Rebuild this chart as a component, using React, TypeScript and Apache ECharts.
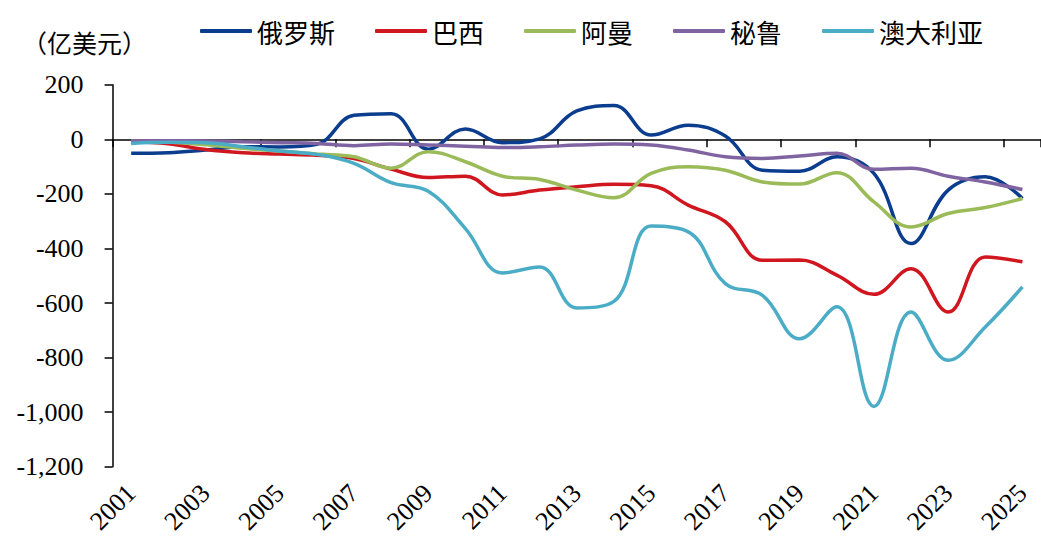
import React, { useEffect, useRef } from "react";
import * as echarts from "echarts";

const years = [
  "2001", "2002", "2003", "2004", "2005", "2006", "2007", "2008", "2009", "2010",
  "2011", "2012", "2013", "2014", "2015", "2016", "2017", "2018", "2019", "2020",
  "2021", "2022", "2023", "2024", "2025",
];

const russia = [-51, -49, -39, -27, -28, -18, 88, 94, -36, 38, -12, 2, 104, 124, 16, 52, 12, -113, -117, -64, -125, -382, -186, -137, -217];
const brazil = [-9, -16, -37, -49, -54, -58, -70, -109, -140, -135, -204, -186, -174, -165, -170, -241, -302, -443, -442, -498, -568, -474, -633, -431, -449];
const oman = [-5, -10, -20, -33, -43, -54, -64, -106, -45, -82, -135, -147, -186, -214, -125, -100, -113, -156, -164, -122, -229, -321, -272, -250, -217];
const peru = [-5, -5, -6, -9, -12, -15, -23, -17, -21, -25, -30, -27, -21, -17, -21, -39, -64, -70, -61, -51, -110, -106, -135, -156, -184];
const australia = [-15, -11, -12, -27, -43, -55, -88, -159, -190, -327, -490, -468, -618, -594, -318, -339, -529, -572, -731, -614, -979, -633, -810, -688, -541];

const seriesNames = ["俄罗斯", "巴西", "阿曼", "秘鲁", "澳大利亚"];
const seriesData = [russia, brazil, oman, peru, australia];
const colors = ["#0B3D8E", "#D0161F", "#9BBB59", "#8064A2", "#4BACC6"];

const yMin = -1200;
const yMax = 200;
const yStep = 200;
const unitLabel = "（亿美元）";

const serif = "'Liberation Serif', 'Times New Roman', Times, serif";
const cjk = "Noto Sans CJK SC";

function fmt(v: number): string {
  const s = Math.abs(v).toString().replace(/\B(?=(\d{3})+(?!\d))/g, ",");
  return v < 0 ? "-" + s : s;
}

export default function App() {
  const ref = useRef<HTMLDivElement>(null);
  useEffect(() => {
    document.body.style.margin = "0";
    const chart = echarts.init(ref.current!, null, { renderer: "svg" });
    chart.setOption({
      animation: false,
      backgroundColor: "#ffffff",
      color: colors,
      grid: { left: 112.6, top: 84.8, width: 934, height: 381.9, containLabel: false },
      legend: {
        left: 195,
        top: 13,
        itemWidth: 52,
        itemHeight: 4,
        itemGap: 40,
        icon: "roundRect",
        textStyle: { fontFamily: cjk, fontSize: 26, color: "#000" },
        data: seriesNames,
      },
      graphic: [
        {
          type: "text",
          left: 22,
          top: 29,
          style: { text: unitLabel, font: `25px '${cjk}'`, fill: "#000" },
        },
      ],
      xAxis: [
        {
          type: "category",
          data: years,
          boundaryGap: true,
          position: "bottom",
          axisLine: { show: false, onZero: false },
          axisTick: { show: false },
          axisLabel: {
            interval: 1,
            rotate: 45,
            margin: 22,
            fontFamily: serif,
            fontSize: 26,
            color: "#000",
          },
        },
        {
          type: "category",
          data: years,
          boundaryGap: true,
          position: "bottom",
          axisLine: { show: true, onZero: true, lineStyle: { color: "#000", width: 1.5 } },
          axisTick: { show: true, interval: 1, length: 8, lineStyle: { color: "#000", width: 1.5 } },
          axisLabel: { show: false },
        },
      ],
      yAxis: {
        type: "value",
        min: yMin,
        max: yMax,
        interval: yStep,
        axisLine: { show: true, lineStyle: { color: "#000", width: 1.5 } },
        axisTick: { show: true, length: 8, lineStyle: { color: "#000", width: 1.5 } },
        splitLine: { show: false },
        axisLabel: {
          margin: 29,
          fontFamily: serif,
          fontSize: 26,
          color: "#000",
          formatter: (v: number) => fmt(v),
        },
      },
      series: seriesNames.map((name, i) => ({
        name,
        type: "line",
        xAxisIndex: 0,
        data: seriesData[i],
        smooth: 0.4,
        showSymbol: false,
        symbol: "none",
        lineStyle: { width: 3.5, color: colors[i] },
        itemStyle: { color: colors[i] },
        z: 2 + i,
      })),
    });
    return () => chart.dispose();
  }, []);
  return (
    <div
      ref={ref}
      style={{ position: "fixed", left: 0, top: 0, width: 1041, height: 541 }}
    />
  );
}
